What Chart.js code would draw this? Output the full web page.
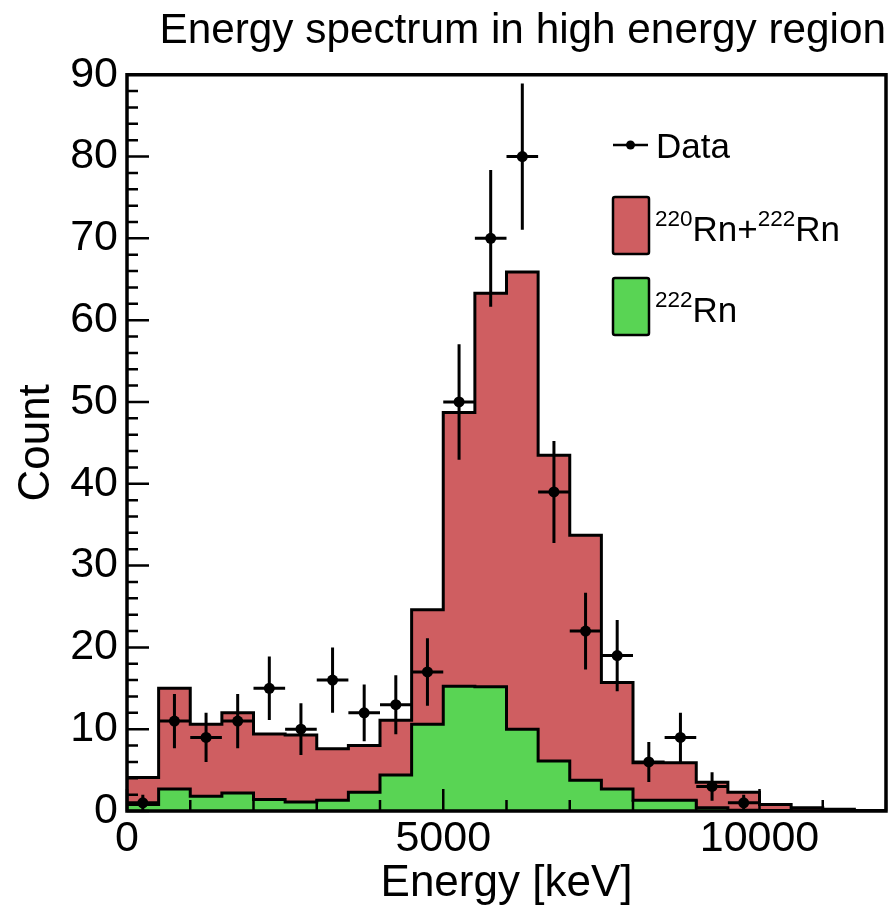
<!DOCTYPE html>
<html><head><meta charset="utf-8">
<script src="https://cdn.jsdelivr.net/npm/chart.js@4.4.1/dist/chart.umd.min.js"></script>
<style>html,body{margin:0;padding:0;background:#fff}#wrap{width:896px;height:912px}</style>
</head><body><div id="wrap"><canvas id="c" width="896" height="912"></canvas></div>
<script>
// ---- data ----
const binEdges = [0,500,1000,1500,2000,2500,3000,3500,4000,4500,5000,5500,6000,6500,7000,7500,8000,8500,9000,9500,10000,10500,11000,11500,12000];
const totalCounts = [4.1,15.0,10.6,12.0,9.4,9.3,7.6,8.0,11.1,24.6,48.7,63.3,65.9,43.5,33.7,15.7,5.9,5.9,3.5,2.3,0.8,0.4,0.2,0.05];
const rn222Counts = [0.8,2.7,1.8,2.2,1.4,1.1,1.3,2.3,4.4,10.6,15.25,15.2,10.0,6.1,3.75,2.7,1.3,1.3,0.4,0.1,0.05,0,0,0];
const dataCounts = [1,11,9,11,15,10,16,12,13,17,50,70,80,39,22,19,6,9,3,1,0,0,0,0];
const xTickValues = [0,5000,10000];
const yTickValues = [0,10,20,30,40,50,60,70,80,90];
const titleText = 'Energy spectrum in high energy region';
const xTitleText = 'Energy [keV]';
const yTitleText = 'Count';
const legendData = 'Data';
const legendTotal = [['220',true],['Rn+',false],['222',true],['Rn',false]];
const legendRn222 = [['222',true],['Rn',false]];

const FONT = "'Liberation Sans', Arial, Helvetica, sans-serif";
const RED = '#CF5E61';
const GREEN = '#59D454';

function stepPoints(vals){
  return binEdges.map((e,i)=>({x:e, y: vals[Math.min(i, vals.length-1)]}));
}
const markerPoints = [];
dataCounts.forEach((n,i)=>{ if(n>0) markerPoints.push({x:(binEdges[i]+binEdges[i+1])/2, y:n}); });

const rootPlugin = {
  id:'rootStyle',
  afterDatasetsDraw(chart){
    const ctx = chart.ctx, xs = chart.scales.x, ys = chart.scales.y, ca = chart.chartArea;
    ctx.save();
    // error bars
    ctx.strokeStyle = '#000'; ctx.lineWidth = 3; ctx.lineCap='butt';
    dataCounts.forEach((n,i)=>{
      if(n<=0) return;
      const xc = xs.getPixelForValue((binEdges[i]+binEdges[i+1])/2);
      const err = Math.sqrt(n);
      ctx.beginPath();
      ctx.moveTo(xc, ys.getPixelForValue(Math.max(0,n-err)));
      ctx.lineTo(xc, ys.getPixelForValue(n+err));
      ctx.moveTo(xs.getPixelForValue(binEdges[i]), ys.getPixelForValue(n));
      ctx.lineTo(xs.getPixelForValue(binEdges[i+1]), ys.getPixelForValue(n));
      ctx.stroke();
    });
    // ticks
    ctx.lineWidth = 2.5;
    ctx.beginPath();
    for(let v=ys.min; v<=ys.max; v+=2){
      const y = ys.getPixelForValue(v);
      const len = (v%10===0)?22:11;
      ctx.moveTo(ca.left, y); ctx.lineTo(ca.left+len, y);
    }
    for(let v=xs.min; v<=xs.max; v+=1000){
      const x = xs.getPixelForValue(v);
      const len = (v%5000===0)?22:11;
      ctx.moveTo(x, ca.bottom); ctx.lineTo(x, ca.bottom-len);
    }
    ctx.stroke();
    // frame
    ctx.lineWidth = 3.5;
    ctx.strokeRect(ca.left, ca.top, ca.right-ca.left, ca.bottom-ca.top);
    ctx.restore();
  },
  afterDraw(chart){
    const ctx = chart.ctx;
    ctx.save();
    ctx.fillStyle='#000'; ctx.strokeStyle='#000';
    // Data entry
    ctx.lineWidth = 2.5;
    ctx.beginPath(); ctx.moveTo(613,145); ctx.lineTo(648,145); ctx.stroke();
    ctx.beginPath(); ctx.arc(630.5,145,4.5,0,Math.PI*2); ctx.fill();
    ctx.textBaseline='alphabetic'; ctx.textAlign='left';
    ctx.font = '35px '+FONT;
    ctx.fillText(legendData, 656, 158);
    function box(y0,y1,col){
      ctx.fillStyle=col; ctx.lineWidth=2.5;
      ctx.beginPath();
      if(ctx.roundRect) ctx.roundRect(613,y0,36,y1-y0,2); else ctx.rect(613,y0,36,y1-y0);
      ctx.fill(); ctx.stroke();
      ctx.fillStyle='#000';
    }
    function rich(parts,x,base){
      parts.forEach(([t,sup])=>{
        if(sup){ ctx.font='22.5px '+FONT; ctx.fillText(t,x,base-15); }
        else { ctx.font='35px '+FONT; ctx.fillText(t,x,base); }
        x += ctx.measureText(t).width;
      });
    }
    box(197,254,RED);
    rich(legendTotal,655,241);
    box(278,335,GREEN);
    rich(legendRn222,655,322);
    ctx.restore();
  }
};

new Chart(document.getElementById('c'), {
  type:'line',
  data:{
    datasets:[
      {label:'220Rn+222Rn', data: stepPoints(totalCounts), stepped:true, fill:'origin',
       backgroundColor:RED, borderColor:'#000', borderWidth:3, pointRadius:0, order:3},
      {label:'222Rn', data: stepPoints(rn222Counts), stepped:true, fill:'origin',
       backgroundColor:GREEN, borderColor:'#000', borderWidth:3, pointRadius:0, order:2},
      {label:'Data', data: markerPoints, showLine:false, pointRadius:5.5, pointStyle:'circle',
       pointBackgroundColor:'#000', pointBorderColor:'#000', pointBorderWidth:0, order:1}
    ]
  },
  options:{
    responsive:false, animation:false, devicePixelRatio:1,
    layout:{padding:{left:0,right:10,top:0,bottom:0}},
    plugins:{
      legend:{display:false}, tooltip:{enabled:false},
      title:{display:true, text:titleText, align:'end', color:'#000',
        font:{family:FONT,size:42.3,weight:'normal',lineHeight:1.2}, padding:{top:6,bottom:18}}
    },
    scales:{
      x:{type:'linear', min:0, max:12000,
        grid:{display:false, drawTicks:false}, border:{display:false},
        ticks:{color:'#000', font:{family:FONT,size:43}, padding:2, maxRotation:0, autoSkip:false,
          callback:(v)=>String(v)},
        afterBuildTicks:(s)=>{ s.ticks = xTickValues.map(v=>({value:v})); },
        afterFit:(s)=>{ s.height = 101; },
        title:{display:true, text:xTitleText, color:'#000', font:{family:FONT,size:44}, padding:{top:0,bottom:2}}
      },
      y:{type:'linear', min:0, max:90,
        grid:{display:false, drawTicks:false}, border:{display:false},
        ticks:{color:'#000', font:{family:FONT,size:43}, padding:9, autoSkip:false,
          callback:(v)=>String(v)},
        afterBuildTicks:(s)=>{ s.ticks = yTickValues.map(v=>({value:v})); },
        afterFit:(s)=>{ s.width = 127; },
        title:{display:true, text:yTitleText, color:'#000', font:{family:FONT,size:44}, padding:{top:10,bottom:0}}
      }
    }
  },
  plugins:[rootPlugin]
});
</script></body></html>
